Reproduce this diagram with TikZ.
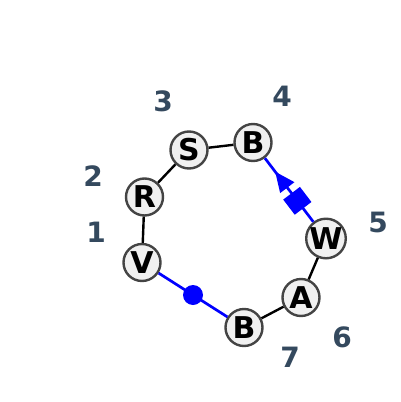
\documentclass[tikz,border=0pt]{standalone}
\usepackage{fontspec}
\setmainfont{DejaVu Sans}
\usetikzlibrary{shapes.geometric}
\definecolor{nodefill}{HTML}{F0F0F0}
\definecolor{nodeborder}{HTML}{444444}
\definecolor{labcol}{HTML}{34495E}
\definecolor{edgeblue}{HTML}{0000FF}
\tikzset{
  vert/.style={circle, draw=nodeborder, fill=nodefill, line width=2.4pt, minimum size=37pt, inner sep=0pt, font=\fontsize{30}{30}\selectfont\bfseries},
  poslab/.style={text=labcol, font=\fontsize{28}{28}\selectfont\bfseries},
  blk/.style={draw=black, line width=2.4pt},
  blu/.style={draw=edgeblue, line width=2.7pt},
  middot/.style={circle, fill=edgeblue, inner sep=0pt, minimum size=20pt},
  midsquare/.style={sloped, allow upside down, rectangle, fill=edgeblue, inner sep=0pt, minimum width=19pt, minimum height=21pt},
  midtri/.style={sloped, allow upside down, isosceles triangle, isosceles triangle stretches, fill=edgeblue, inner sep=0pt, minimum width=18pt, minimum height=20pt},
}
\begin{document}
\begin{tikzpicture}[x=1pt,y=-1pt]
\useasboundingbox (0,0) rectangle (400,402);
\node[vert] (V) at (142,262.5) {V};
\node[vert] (R) at (144.5,197) {R};
\node[vert] (S) at (189,150) {S};
\node[vert] (B4) at (253,142.5) {B};
\node[vert] (W) at (326,238.5) {W};
\node[vert] (A) at (301,297.5) {A};
\node[vert] (B7) at (244,327.5) {B};
\draw[blk] (V) -- (R);
\draw[blk] (R) -- (S);
\draw[blk] (S) -- (B4);
\draw[blk] (W) -- (A);
\draw[blk] (A) -- (B7);
\draw[blu] (V) -- (B7) node[pos=0.5, middot] (dot) {};
\draw[blu] (W) -- (B4)
  node[pos=0.33, midsquare] (sq) {}
  node[pos=0.61, midtri] (tri) {};
\node[poslab] (l1) at (96,232) {1};
\node[poslab] (l2) at (93,176) {2};
\node[poslab] (l3) at (163,101) {3};
\node[poslab] (l4) at (282,96) {4};
\node[poslab] (l5) at (378,222) {5};
\node[poslab] (l6) at (342,337) {6};
\node[poslab] (l7) at (290,357) {7};
\end{tikzpicture}
\end{document}
